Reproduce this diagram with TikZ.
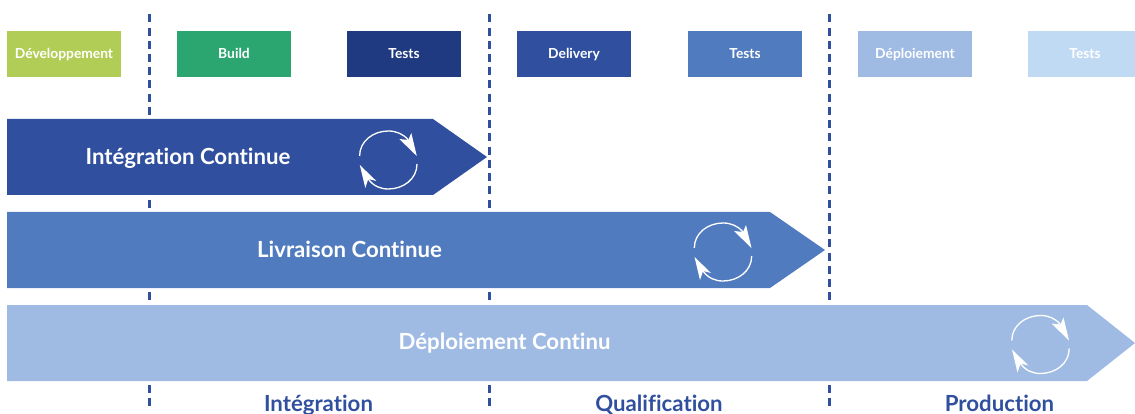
\documentclass[tikz,border=0pt]{standalone}
\usepackage{fontspec}
\setmainfont{Lato}[Ligatures=NoCommon]
\definecolor{cGreen}{HTML}{B2CD56}
\definecolor{cTeal}{HTML}{2CA670}
\definecolor{cNavy}{HTML}{1F3A80}
\definecolor{cBlue}{HTML}{30509F}
\definecolor{cMid}{HTML}{517BBF}
\definecolor{cLight}{HTML}{9FBBE3}
\definecolor{cPale}{HTML}{C1DAF3}
\tikzset{
  stagebox/.style={minimum width=114pt,minimum height=46pt,inner sep=0pt,text=white,font=\bfseries\fontsize{13.8}{16}\selectfont,text height=11pt,text depth=1pt},
  banner/.style={text=white,inner sep=0pt,anchor=base,font=\bfseries\fontsize{22.2}{26}\selectfont},
  phase/.style={text=cBlue,inner sep=0pt,anchor=base,font=\bfseries\fontsize{22.2}{26}\selectfont},
  sep/.style={draw=cBlue,line width=3pt,dash pattern=on 8pt off 5.24pt},
  pics/cycle/.style={code={
    \draw[white,line width=1.3pt] (-28.7,-4) .. controls (-28.7,-19) and (-15,-29) .. (0,-29) .. controls (8,-29) and (15,-26) .. (20,-20);
    \draw[white,line width=1.3pt] (28.7,4) .. controls (28.7,19) and (15,29) .. (0,29) .. controls (-8,29) and (-15,26) .. (-20,19);
    \fill[white] (28.5,-4) -- (23,-27) -- (20,-20) -- (11,-21) -- cycle;
    \fill[white] (-28.5,5) -- (-23,28) -- (-20,19) -- (-12,21) -- cycle;
  }}
}
\begin{document}
\begin{tikzpicture}[x=1pt,y=-1pt]
\useasboundingbox (0,0) rectangle (1135,414);
\foreach \n/\x in {a/149,b/489,c/829}{
  \coordinate (\n top) at (\x,14.3);
  \coordinate (\n bot) at (\x,406.5);
  \draw[sep] (\n top) -- (\n bot);
}
\fill[cBlue] (7,119) -- (433,119) -- (487,157) -- (433,195) -- (7,195) -- cycle;
\fill[cMid] (7,212) -- (770,212) -- (825,250) -- (770,288) -- (7,288) -- cycle;
\fill[cLight] (7,305) -- (1087,305) -- (1135,343) -- (1087,381) -- (7,381) -- cycle;
\node[banner] (ic) at (188,164.5) {Intégration Continue};
\node[banner] (lc) at (349.5,257.5) {Livraison Continue};
\node[banner] (dc) at (504.5,349) {Déploiement Continu};
\pic at (388.3,160) {cycle};
\pic at (723,252) {cycle};
\pic at (1040.5,344.5) {cycle};
\node[stagebox,fill=cGreen] (s1) at (64,54) {Développement};
\node[stagebox,fill=cTeal] (s2) at (234,54) {Build};
\node[stagebox,fill=cNavy] (s3) at (404,54) {Tests};
\node[stagebox,fill=cBlue] (s4) at (574,54) {Delivery};
\node[stagebox,fill=cMid] (s5) at (745,54) {Tests};
\node[stagebox,fill=cLight] (s6) at (915,54) {Déploiement};
\fill[cPale] (1028,31) rectangle (1135,77);
\node[stagebox,minimum width=60pt] (s7) at (1085,54) {Tests};
\node[phase] (p1) at (318.5,411) {Intégration};
\node[phase] (p2) at (659,411) {Qualification};
\node[phase] (p3) at (999.5,411) {Production};
\end{tikzpicture}
\end{document}
